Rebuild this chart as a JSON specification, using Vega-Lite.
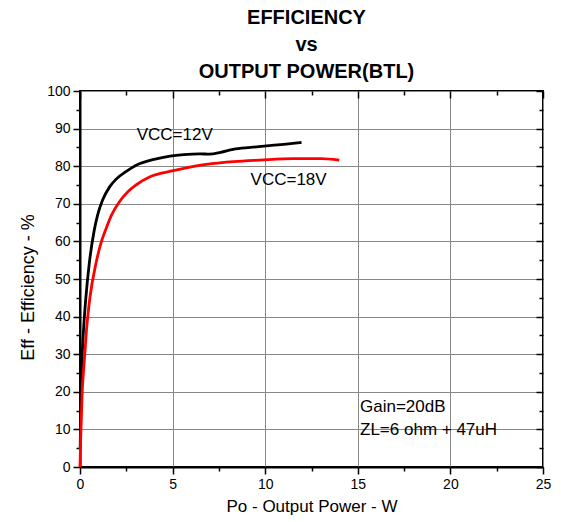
{
  "$schema": "https://vega.github.io/schema/vega-lite/v6.json",
  "width": 463,
  "height": 376,
  "autosize": {"type": "none"},
  "padding": {"left": 80, "top": 91, "right": 18, "bottom": 55},
  "background": "white",
  "config": {
    "font": "Liberation Sans",
    "view": {"stroke": "black", "strokeWidth": 2},
    "axis": {"labelFont": "Liberation Sans", "titleFont": "Liberation Sans", "labelColor": "black", "titleColor": "black", "titleFontWeight": "normal", "labelFlush": false}
  },
  "title": {
    "text": ["EFFICIENCY", "vs", "OUTPUT POWER(BTL)"],
    "fontSize": 20,
    "fontWeight": "bold",
    "lineHeight": 27,
    "anchor": "middle",
    "offset": 2,
    "dx": -5,
    "color": "black"
  },
  "datasets": {
    "curves": [
      {"po": 0.01, "eff": 5, "vcc": "12V"},
      {"po": 0.03, "eff": 12, "vcc": "12V"},
      {"po": 0.06, "eff": 20, "vcc": "12V"},
      {"po": 0.1, "eff": 27.5, "vcc": "12V"},
      {"po": 0.19, "eff": 36.4, "vcc": "12V"},
      {"po": 0.32, "eff": 45.2, "vcc": "12V"},
      {"po": 0.5, "eff": 54.1, "vcc": "12V"},
      {"po": 0.77, "eff": 63, "vcc": "12V"},
      {"po": 0.95, "eff": 67, "vcc": "12V"},
      {"po": 1.22, "eff": 71, "vcc": "12V"},
      {"po": 1.6, "eff": 74.5, "vcc": "12V"},
      {"po": 1.94, "eff": 76.5, "vcc": "12V"},
      {"po": 2.5, "eff": 78.6, "vcc": "12V"},
      {"po": 3.06, "eff": 80.3, "vcc": "12V"},
      {"po": 4.0, "eff": 81.8, "vcc": "12V"},
      {"po": 4.86, "eff": 82.7, "vcc": "12V"},
      {"po": 5.6, "eff": 83.1, "vcc": "12V"},
      {"po": 6.48, "eff": 83.3, "vcc": "12V"},
      {"po": 7.0, "eff": 83.2, "vcc": "12V"},
      {"po": 7.6, "eff": 83.7, "vcc": "12V"},
      {"po": 8.27, "eff": 84.5, "vcc": "12V"},
      {"po": 9.2, "eff": 85.0, "vcc": "12V"},
      {"po": 10.07, "eff": 85.4, "vcc": "12V"},
      {"po": 11.0, "eff": 85.8, "vcc": "12V"},
      {"po": 11.96, "eff": 86.3, "vcc": "12V"},
      {"po": 0, "eff": 0, "vcc": "18V"},
      {"po": 0.04, "eff": 8, "vcc": "18V"},
      {"po": 0.11, "eff": 19, "vcc": "18V"},
      {"po": 0.22, "eff": 27.5, "vcc": "18V"},
      {"po": 0.35, "eff": 36.4, "vcc": "18V"},
      {"po": 0.54, "eff": 45.2, "vcc": "18V"},
      {"po": 0.86, "eff": 54.1, "vcc": "18V"},
      {"po": 1.1, "eff": 59, "vcc": "18V"},
      {"po": 1.4, "eff": 63.3, "vcc": "18V"},
      {"po": 1.7, "eff": 67, "vcc": "18V"},
      {"po": 2.12, "eff": 70.5, "vcc": "18V"},
      {"po": 2.6, "eff": 73.3, "vcc": "18V"},
      {"po": 3.02, "eff": 75, "vcc": "18V"},
      {"po": 3.78, "eff": 77.2, "vcc": "18V"},
      {"po": 5.04, "eff": 78.8, "vcc": "18V"},
      {"po": 6.0, "eff": 79.8, "vcc": "18V"},
      {"po": 7.02, "eff": 80.6, "vcc": "18V"},
      {"po": 8.3, "eff": 81.2, "vcc": "18V"},
      {"po": 9.71, "eff": 81.6, "vcc": "18V"},
      {"po": 11.5, "eff": 82.0, "vcc": "18V"},
      {"po": 13.0, "eff": 82.0, "vcc": "18V"},
      {"po": 14.0, "eff": 81.6, "vcc": "18V"}
    ],
    "notes": [
      {"po": 3.06, "eff": 86.9, "label": "VCC=12V"},
      {"po": 9.21, "eff": 75.0, "label": "VCC=18V"},
      {"po": 15.12, "eff": 14.6, "label": "Gain=20dB"},
      {"po": 15.12, "eff": 8.4, "label": "ZL=6 ohm + 47uH"}
    ]
  },
  "resolve": {"axis": {"x": "independent", "y": "independent"}},
  "layer": [
    {
      "data": {"name": "curves"},
      "mark": {"type": "line", "strokeWidth": 2.8, "interpolate": "monotone"},
      "encoding": {
        "x": {"field": "po", "type": "quantitative", "scale": {"domain": [0, 25], "nice": false},
          "axis": {"orient": "bottom", "values": [0, 5, 10, 15, 20, 25], "title": "Po - Output Power - W", "titleFontSize": 17, "titlePadding": 7, "labelFontSize": 14, "labelPadding": 3, "tickSize": 7, "tickWidth": 1.5, "tickColor": "black", "domainColor": "black", "domainWidth": 2, "grid": true, "gridColor": "#888888", "gridWidth": 1}},
        "y": {"field": "eff", "type": "quantitative", "scale": {"domain": [0, 100], "nice": false},
          "axis": {"orient": "left", "values": [0, 10, 20, 30, 40, 50, 60, 70, 80, 90, 100], "title": "Eff - Efficiency - %", "titleFontSize": 18, "titlePadding": 9, "titleY": 196, "labelFontSize": 14, "labelPadding": 3, "tickSize": 7, "tickWidth": 1.5, "tickColor": "black", "domainColor": "black", "domainWidth": 2, "grid": true, "gridColor": "#888888", "gridWidth": 1}},
        "color": {"field": "vcc", "type": "nominal", "scale": {"domain": ["12V", "18V"], "range": ["black", "#ff0000"]}, "legend": null}
      }
    },
    {
      "data": {"name": "curves"},
      "mark": {"type": "point", "opacity": 0},
      "encoding": {
        "x": {"field": "po", "type": "quantitative", "scale": {"domain": [0, 25], "nice": false},
          "axis": {"orient": "bottom", "values": [2.5, 7.5, 12.5, 17.5, 22.5], "labels": false, "title": null, "domain": false, "grid": false, "tickSize": 4, "tickWidth": 1.5, "tickColor": "black"}},
        "y": {"field": "eff", "type": "quantitative", "scale": {"domain": [0, 100], "nice": false},
          "axis": {"orient": "left", "values": [5, 15, 25, 35, 45, 55, 65, 75, 85, 95], "labels": false, "title": null, "domain": false, "grid": false, "tickSize": 4, "tickWidth": 1.5, "tickColor": "black"}}
      }
    },
    {
      "data": {"name": "curves"},
      "mark": {"type": "point", "opacity": 0},
      "encoding": {
        "x": {"field": "po", "type": "quantitative", "scale": {"domain": [0, 25], "nice": false},
          "axis": {"orient": "top", "values": [0, 5, 10, 15, 20, 25], "labels": false, "title": null, "domain": false, "grid": false, "tickSize": -7, "tickWidth": 1.5, "tickColor": "black"}},
        "y": {"field": "eff", "type": "quantitative", "scale": {"domain": [0, 100], "nice": false},
          "axis": {"orient": "right", "values": [0, 10, 20, 30, 40, 50, 60, 70, 80, 90, 100], "labels": false, "title": null, "domain": false, "grid": false, "tickSize": -7, "tickWidth": 1.5, "tickColor": "black"}}
      }
    },
    {
      "data": {"name": "notes"},
      "mark": {"type": "text", "align": "left", "baseline": "alphabetic", "fontSize": 17, "font": "Liberation Sans", "color": "black"},
      "encoding": {
        "text": {"field": "label"},
        "x": {"field": "po", "type": "quantitative", "scale": {"domain": [0, 25], "nice": false},
          "axis": {"orient": "top", "values": [2.5, 7.5, 12.5, 17.5, 22.5], "labels": false, "title": null, "domain": false, "grid": false, "tickSize": -4, "tickWidth": 1.5, "tickColor": "black"}},
        "y": {"field": "eff", "type": "quantitative", "scale": {"domain": [0, 100], "nice": false},
          "axis": {"orient": "right", "values": [5, 15, 25, 35, 45, 55, 65, 75, 85, 95], "labels": false, "title": null, "domain": false, "grid": false, "tickSize": -4, "tickWidth": 1.5, "tickColor": "black"}}
      }
    }
  ]
}
